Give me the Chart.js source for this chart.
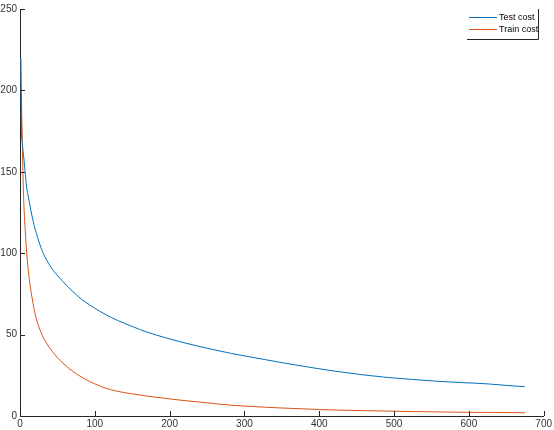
<!DOCTYPE html>
<html>
<head>
<meta charset="utf-8">
<script src="https://cdn.jsdelivr.net/npm/chart.js@4"></script>
<style>
  body { margin: 0; background: #fff; }
  #wrap { width: 554px; height: 430px; }
</style>
</head>
<body>
<div id="wrap"><canvas id="cost-chart" width="554" height="430"></canvas></div>
<script>
const epochs = [1, 2, 3, 4, 5, 7, 9, 11, 13, 16, 19, 22, 25, 28, 32, 36, 40, 46, 53, 62, 71, 82, 93, 106, 115, 130, 150, 170, 195, 215, 239, 260, 283, 305, 328, 350, 373, 400, 426, 460, 493, 526, 559, 592, 626, 650, 675];
const testCost = [220, 175, 168, 163, 159, 149, 140, 135, 130, 123, 117, 112, 107.5, 103.5, 99, 95.5, 92.4, 88.5, 84.8, 80.3, 76.3, 71.8, 68.3, 64.5, 62.2, 58.8, 55, 51.5, 48, 45.5, 42.8, 40.6, 38.4, 36.5, 34.6, 32.8, 31, 29, 27.2, 25.2, 23.6, 22.4, 21.3, 20.5, 19.7, 18.8, 18];
const trainCost = [220, 192, 172, 148, 132, 114, 100, 90, 82, 73, 65.5, 59.5, 55, 51.5, 47.5, 44.3, 41.6, 38, 34.4, 30.6, 27.3, 24, 21.2, 18.6, 17, 15.2, 13.6, 12.2, 10.8, 9.7, 8.6, 7.6, 6.6, 6, 5.4, 4.9, 4.5, 4.0, 3.6, 3.3, 3.0, 2.7, 2.5, 2.3, 2.2, 2.1, 2.0];
const seriesLabels = ["Test cost", "Train cost"];
const seriesColors = ["#0072BD", "#D95319"];

const xTicks = { min: 0, max: 700, step: 100 };
const yTicks = { min: 0, max: 250, step: 50 };

Chart.defaults.font.family = "'Liberation Sans', Arial, sans-serif";

const toPoints = (vals) => epochs.map((e, i) => ({ x: e, y: vals[i] }));

// MATLAB style: tick marks point into the plot
const innerTicks = {
  id: "innerTicks",
  afterDraw(chart) {
    const ctx = chart.ctx;
    const { left, bottom } = chart.chartArea;
    ctx.save();
    ctx.strokeStyle = "#262626";
    ctx.lineWidth = 1;
    ctx.beginPath();
    chart.scales.x.ticks.forEach((t) => {
      const px = Math.round(chart.scales.x.getPixelForValue(t.value)) + 0.5;
      ctx.moveTo(px, bottom);
      ctx.lineTo(px, bottom - 5);
    });
    chart.scales.y.ticks.forEach((t) => {
      const py = Math.round(chart.scales.y.getPixelForValue(t.value)) + 0.5;
      ctx.moveTo(left, py);
      ctx.lineTo(left + 5, py);
    });
    ctx.stroke();
    ctx.restore();
  },
};

// legend box in the top right corner
const cornerLegend = {
  id: "cornerLegend",
  afterDraw(chart) {
    const ctx = chart.ctx;
    const boxL = 467, boxR = 538, boxT = 9, boxB = 39;
    ctx.save();
    ctx.strokeStyle = "#262626";
    ctx.lineWidth = 1;
    ctx.beginPath();
    ctx.moveTo(boxL, boxB + 0.5);
    ctx.lineTo(boxR + 0.5, boxB + 0.5);
    ctx.lineTo(boxR + 0.5, boxT);
    ctx.stroke();
    ctx.font = "9px 'Liberation Sans', Arial, sans-serif";
    ctx.textBaseline = "middle";
    ctx.fillStyle = "#000";
    chart.data.datasets.forEach((ds, i) => {
      const y = 17.5 + i * 12;
      ctx.strokeStyle = ds.borderColor;
      ctx.beginPath();
      ctx.moveTo(469, y);
      ctx.lineTo(497, y);
      ctx.stroke();
      ctx.fillText(ds.label, 499, y);
    });
    ctx.restore();
  },
};

new Chart(document.getElementById("cost-chart"), {
  type: "line",
  data: {
    datasets: [
      {
        label: seriesLabels[0],
        data: toPoints(testCost),
        borderColor: seriesColors[0],
        borderWidth: 1,
        pointRadius: 0,
        cubicInterpolationMode: "monotone",
        fill: false,
      },
      {
        label: seriesLabels[1],
        data: toPoints(trainCost),
        borderColor: seriesColors[1],
        borderWidth: 1,
        pointRadius: 0,
        cubicInterpolationMode: "monotone",
        fill: false,
      },
    ],
  },
  options: {
    responsive: false,
    animation: false,
    devicePixelRatio: 1,
    layout: { autoPadding: false, padding: { left: 0, top: 3, right: 8, bottom: 0 } },
    plugins: { legend: { display: false }, tooltip: { enabled: false } },
    scales: {
      x: {
        type: "linear",
        min: xTicks.min,
        max: xTicks.max,
        ticks: { stepSize: xTicks.step, padding: 2, color: "#333", font: { size: 10 }, maxRotation: 0 },
        grid: { drawOnChartArea: false, drawTicks: false },
        border: { color: "#262626", width: 1 },
        afterFit: (scale) => { scale.height = 14; },
      },
      y: {
        min: yTicks.min,
        max: yTicks.max,
        ticks: { stepSize: yTicks.step, padding: 3, color: "#333", font: { size: 10 } },
        grid: { drawOnChartArea: false, drawTicks: false },
        border: { color: "#262626", width: 1 },
        afterFit: (scale) => { scale.width = 20; },
      },
    },
  },
  plugins: [innerTicks, cornerLegend],
});
</script>
</body>
</html>
